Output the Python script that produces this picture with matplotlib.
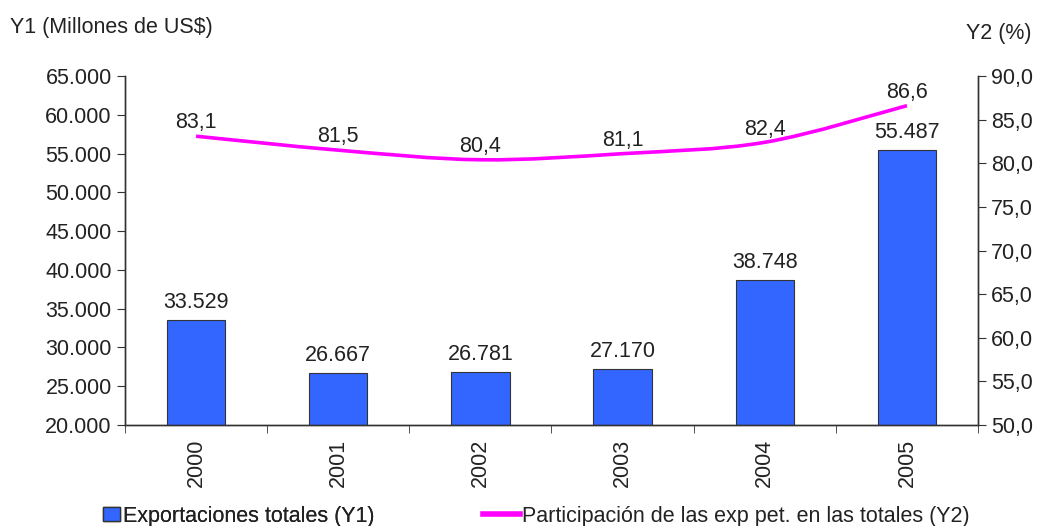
import matplotlib.pyplot as plt
import numpy as np
from matplotlib.path import Path
from matplotlib.patches import PathPatch, Patch
from matplotlib.lines import Line2D

plt.rcParams['font.family'] = ['Liberation Sans', 'DejaVu Sans']

years = ["2000", "2001", "2002", "2003", "2004", "2005"]
exportaciones = [33529, 26667, 26781, 27170, 38748, 55487]
participacion = [83.1, 81.5, 80.4, 81.1, 82.4, 86.6]
y1_ticks = [20000, 25000, 30000, 35000, 40000, 45000, 50000, 55000, 60000, 65000]
y2_ticks = [50, 55, 60, 65, 70, 75, 80, 85, 90]

bar_color = "#3366ff"
line_color = "#ff00ff"
text_color = "#222222"
axis_color = "#333333"
fs = 15.5


def fmt_miles(v):
    return f"{v:,.0f}".replace(",", ".")


def fmt_dec(v):
    return f"{v:.1f}".replace(".", ",")


def smooth_path(xs, ys):
    # Catmull-Rom curve drawn as cubic Bezier segments through the data points
    pts = np.column_stack([xs, ys]).astype(float)
    verts = [pts[0]]
    codes = [Path.MOVETO]
    n = len(pts)
    for i in range(n - 1):
        p0 = pts[i - 1] if i > 0 else pts[i]
        p1 = pts[i]
        p2 = pts[i + 1]
        p3 = pts[i + 2] if i + 2 < n else pts[i + 1]
        c1 = p1 + (p2 - p0) / 6.0
        c2 = p2 - (p3 - p1) / 6.0
        verts += [c1, c2, p2]
        codes += [Path.CURVE4] * 3
    return Path(verts, codes)


fig = plt.figure(figsize=(10.44, 5.26), dpi=100)
ax = fig.add_axes([0.1197, 0.192, 0.8171, 0.6635])
ax2 = ax.twinx()

x = np.arange(len(years))
ax.bar(x, exportaciones, width=0.41, color=bar_color, edgecolor=axis_color, linewidth=0.8, zorder=2)
ax.set_xlim(-0.5, len(years) - 0.5)
ax.set_ylim(20000, 65000)
ax.set_yticks(y1_ticks)
ax.set_yticklabels([fmt_miles(v) for v in y1_ticks])

for xi, v in zip(x, exportaciones):
    ax.annotate(fmt_miles(v), (xi, v), xytext=(0, 5), textcoords="offset points",
                ha="center", va="bottom", fontsize=fs, color=text_color)

ax.set_xticks(x)
ax.set_xticklabels(years, rotation=90, fontsize=fs, color=text_color)
ax.tick_params(axis="x", direction="in", length=4, pad=10, color=axis_color)
ax.set_xticks(np.arange(-0.5, len(years), 1.0), minor=True)
ax.tick_params(axis="x", which="minor", direction="out", length=6, color=axis_color)
ax.tick_params(axis="y", direction="out", length=6, labelsize=fs, labelcolor=text_color, color=axis_color)

ax2.set_ylim(50, 90)
ax2.set_yticks(y2_ticks)
ax2.set_yticklabels([fmt_dec(v) for v in y2_ticks])
ax2.tick_params(axis="y", direction="out", length=6, labelsize=fs, labelcolor=text_color, color=axis_color)

curve = PathPatch(smooth_path(x, participacion), facecolor="none", edgecolor=line_color,
                  linewidth=2.6, transform=ax2.transData, zorder=3)
ax2.add_patch(curve)

for xi, v in zip(x, participacion):
    ax2.annotate(fmt_dec(v), (xi, v), xytext=(0, 2), textcoords="offset points",
                 ha="center", va="bottom", fontsize=fs, color=text_color)

for a in (ax, ax2):
    a.spines["top"].set_visible(False)
    for s in ("left", "right", "bottom"):
        a.spines[s].set_color(axis_color)
        a.spines[s].set_linewidth(1.0)

fig.text(0.0096, 0.948, "Y1 (Millones de US$)", fontsize=fs, color=text_color, ha="left", va="center")
fig.text(0.9885, 0.937, "Y2 (%)", fontsize=fs, color=text_color, ha="right", va="center")

leg1 = fig.legend([Patch(facecolor=bar_color, edgecolor=axis_color, linewidth=1.0)],
                  ["Exportaciones totales (Y1)"], loc="center left", bbox_to_anchor=(0.0987, 0.019),
                  frameon=False, fontsize=fs, handlelength=0.8, handleheight=0.65, handletextpad=0.15,
                  borderpad=0, borderaxespad=0, labelcolor=text_color)
fig.legend([Line2D([0], [0], color=line_color, linewidth=4)],
           ["Participación de las exp pet. en las totales (Y2)"], loc="center left",
           bbox_to_anchor=(0.4626, 0.019), frameon=False, fontsize=fs, handlelength=1.7,
           handletextpad=0.1, borderpad=0, borderaxespad=0, labelcolor=text_color)
fig.add_artist(leg1)

fig.savefig("out.png", dpi=100)
